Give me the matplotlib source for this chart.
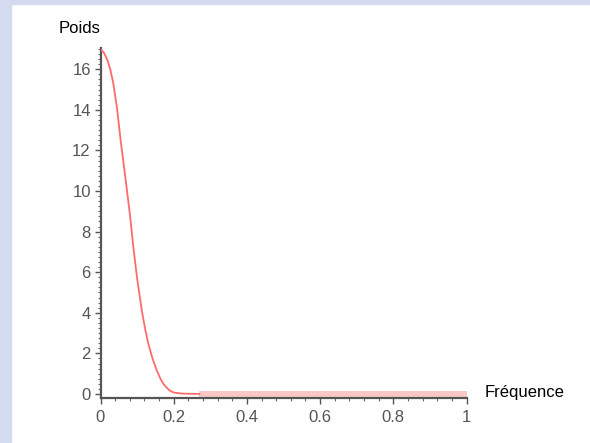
import numpy as np
import matplotlib.pyplot as plt
from matplotlib.patches import Rectangle
from matplotlib.ticker import MultipleLocator

# Values
freq = [0.0, 0.01, 0.02, 0.028, 0.035, 0.045, 0.055, 0.067, 0.08, 0.09,
        0.1, 0.113, 0.122, 0.131, 0.142, 0.154, 0.165, 0.175, 0.188, 0.2,
        0.22, 0.27]
poids = [17.0, 16.8, 16.4, 15.9, 15.3, 14.1, 12.5, 10.8, 8.9, 7.2,
         5.7, 4.1, 3.2, 2.45, 1.75, 1.15, 0.7, 0.42, 0.18, 0.07,
         0.02, 0.0]
tail_freq = [0.27, 1.0]
tail_poids = [0.0, 0.0]

xticks = [0, 0.2, 0.4, 0.6, 0.8, 1]
xlabels = ['0', '0.2', '0.4', '0.6', '0.8', '1']
yticks = [0, 2, 4, 6, 8, 10, 12, 14, 16]

plt.rcParams['font.family'] = ['Liberation Sans', 'DejaVu Sans']

fig = plt.figure(figsize=(5.9, 4.43), dpi=100)
# lavender frame on the left and top
fig.patches.append(Rectangle((0, 0), 11 / 590, 1, transform=fig.transFigure,
                             color='#d5dbef', zorder=0))
fig.patches.append(Rectangle((0, 1 - 4 / 443), 1, 4 / 443, transform=fig.transFigure,
                             color='#d5dbef', zorder=0))

ax = fig.add_axes([100.5 / 590, 45 / 443, 366 / 590, 350 / 443])
ax.patch.set_alpha(0)

ax.plot(tail_freq, tail_poids, color='#fbc6c6', lw=4.2, solid_capstyle='butt', zorder=2)
ax.plot(freq, poids, color='#ff6b6b', lw=1.3, zorder=3)

ax.set_xlim(0, 1)
ax.set_ylim(-0.2, 17.05)

for s in ['top', 'right']:
    ax.spines[s].set_visible(False)
for s in ['left', 'bottom']:
    ax.spines[s].set_color('#555555')
    ax.spines[s].set_linewidth(1.6)

ax.set_xticks(xticks)
ax.set_xticklabels(xlabels)
ax.set_yticks(yticks)
ax.xaxis.set_minor_locator(MultipleLocator(0.04))
ax.yaxis.set_minor_locator(MultipleLocator(0.25))
ax.tick_params(axis='both', which='major', length=4, width=1, color='#555555',
               labelcolor='#555555', labelsize=12)
ax.tick_params(axis='both', which='minor', length=2.5, width=0.8, color='#666666')
ax.tick_params(axis='x', which='major', pad=5)
ax.tick_params(axis='y', which='major', pad=3)

fig.text(100 / 590, 1 - 33 / 443, 'Poids', ha='right', va='baseline', fontsize=12)
fig.text(485 / 590, 1 - 393 / 443, 'Fréquence', ha='left', va='center', fontsize=12)

fig.savefig('out.png', dpi=100)
